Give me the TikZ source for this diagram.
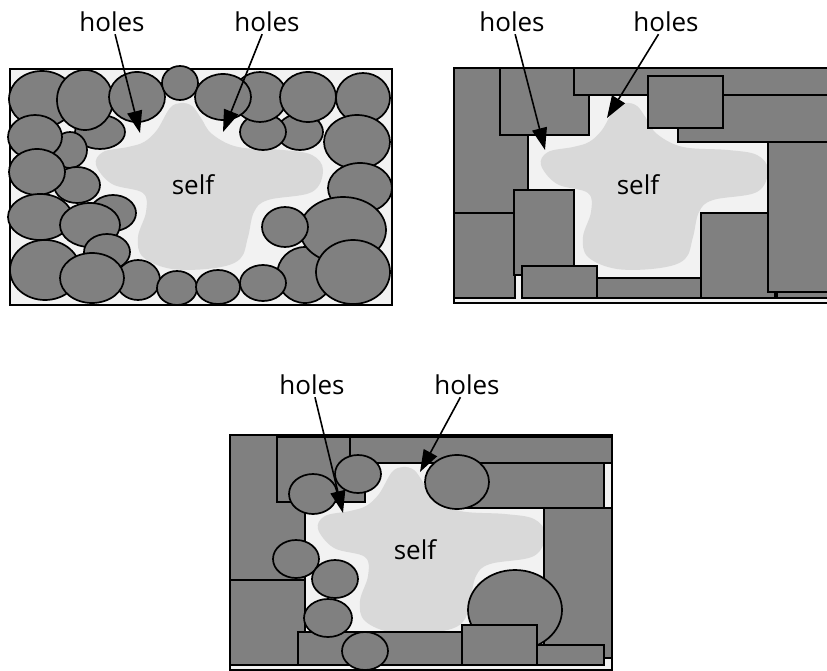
\documentclass[tikz,border=0pt]{standalone}
\usepackage{fontspec}
\setmainfont{Open Sans}
\usetikzlibrary{arrows.meta}
\definecolor{bgc}{HTML}{F2F2F2}
\definecolor{blobc}{HTML}{D9D9D9}
\definecolor{shapec}{HTML}{808080}
\tikzset{
 bgbox/.style={fill=bgc, draw=black, line width=1.6pt},
 blobshape/.style={fill=blobc},
 piece/.style={fill=shapec, draw=black, line width=1.7pt},
 lbl/.style={font=\fontsize{26}{30}\selectfont, inner sep=2pt},
 selflbl/.style={font=\fontsize{26}{30}\selectfont, inner sep=1pt},
 ptr/.style={line width=1.6pt, -{Triangle[length=22pt,width=15pt]}}
}
\newcommand\myblob[1]{\fill[blobshape, shift={#1}] plot[smooth cycle, tension=0.6] coordinates {(181,103) (192,106) (201,118) (212,134) (238,147) (283,150) (312,155) (323,170) (312,192) (268,200) (254,212) (248,237) (240,259) (215,268) (172,269) (143,257) (138,237) (146,212) (143,193) (112,184) (96,165) (103,152) (128,147) (144,142) (157,130) (170,108)};}
\newcommand\pe[4]{\draw[piece] (#1,#2) ellipse [x radius=#3, y radius=#4];}
\newcommand\pr[4]{\draw[piece] (#1,#2) rectangle (#3,#4);}
\begin{document}
\begin{tikzpicture}[x=1pt,y=-1pt]
\useasboundingbox (0,0) rectangle (827,671);
\clip (0,0) rectangle (827,671);
% ---------- top-left panel ----------
\draw[bgbox] (10,69) rectangle (392,305);
\myblob{(0,0)}
\pe{100}{132}{25}{17}
\pe{300}{132}{23}{18}
\pe{263}{132}{23}{18}
\pe{70}{150}{17}{18}
\pe{77}{185}{23}{18}
\pe{113}{213}{23}{18}
\pe{305}{275}{28}{28}
\pe{42}{99}{33}{28}
\pe{85}{100}{28}{30}
\pe{137}{97}{28}{25}
\pe{180}{83}{18}{17}
\pe{260}{97}{27}{25}
\pe{223}{97}{28}{23}
\pe{308}{97}{28}{25}
\pe{363}{98}{27}{25}
\pe{35}{137}{27}{22}
\pe{37}{172}{28}{23}
\pe{357}{142}{33}{27}
\pe{360}{188}{32}{25}
\pe{40}{217}{32}{23}
\pe{90}{225}{30}{22}
\pe{107}{252}{23}{18}
\pe{45}{270}{35}{30}
\pe{138}{280}{22}{20}
\pe{92}{278}{32}{25}
\pe{177}{288}{20}{17}
\pe{218}{287}{22}{17}
\pe{263}{283}{23}{18}
\pe{343}{230}{43}{33}
\pe{285}{227}{23}{20}
\pe{353}{272}{37}{32}
\node[selflbl] (s1) at (193,185) {self};
\node[lbl] (h1) at (112,22) {holes};
\node[lbl] (h2) at (267,22) {holes};
\coordinate (t1) at (140,133);
\coordinate (t2) at (223,132);
\draw[ptr] (h1) -- (t1);
\draw[ptr] (h2) -- (t2);
% ---------- top-right panel ----------
\draw[bgbox] (454,68) rectangle (845,303);
\myblob{(445,0)}
\pr{454}{68}{528}{213}
\pr{454}{213}{515}{298}
\pr{500}{68}{589}{135}
\pr{574}{68}{845}{95}
\pr{678}{95}{845}{142}
\pr{648}{76}{723}{128}
\pr{514}{190}{574}{275}
\pr{522}{266}{597}{298}
\pr{597}{278}{701}{298}
\pr{701}{213}{775}{298}
\pr{777}{290}{845}{298}
\pr{768}{142}{845}{292}
\draw[line width=2.4pt] (454,68) -- (845,68);
\node[selflbl] (s2) at (638,185) {self};
\node[lbl] (h3) at (512,22) {holes};
\node[lbl] (h4) at (666,22) {holes};
\coordinate (t3) at (545,150);
\coordinate (t4) at (607,118);
\draw[ptr] (h3) -- (t3);
\draw[ptr] (h4) -- (t4);
% ---------- bottom panel ----------
\draw[bgbox] (230,435) rectangle (612,670);
\myblob{(222,364)}
\pr{230}{435}{305}{580}
\pr{230}{580}{305}{665}
\pr{277}{437}{365}{502}
\pr{350}{437}{612}{463}
\pr{455}{463}{604}{508}
\pr{544}{508}{612}{658}
\pr{298}{632}{462}{665}
\pe{515}{610}{47}{40}
\pr{462}{625}{537}{665}
\pr{537}{645}{604}{665}
\pe{313}{494}{24}{20}
\pe{358}{474}{23}{19}
\pe{457}{482}{32}{27}
\pe{296}{559}{23}{19}
\pe{335}{579}{23}{19}
\pe{328}{618}{24}{19}
\pe{365}{651}{23}{19}
\draw[line width=2.4pt] (230,435) -- (612,435);
\node[selflbl] (s3) at (415,550) {self};
\node[lbl] (h5) at (312,385) {holes};
\node[lbl] (h6) at (467,385) {holes};
\coordinate (t5) at (343,513);
\coordinate (t6) at (420,472);
\draw[ptr] (h5) -- (t5);
\draw[ptr] (h6) -- (t6);
\end{tikzpicture}
\end{document}
